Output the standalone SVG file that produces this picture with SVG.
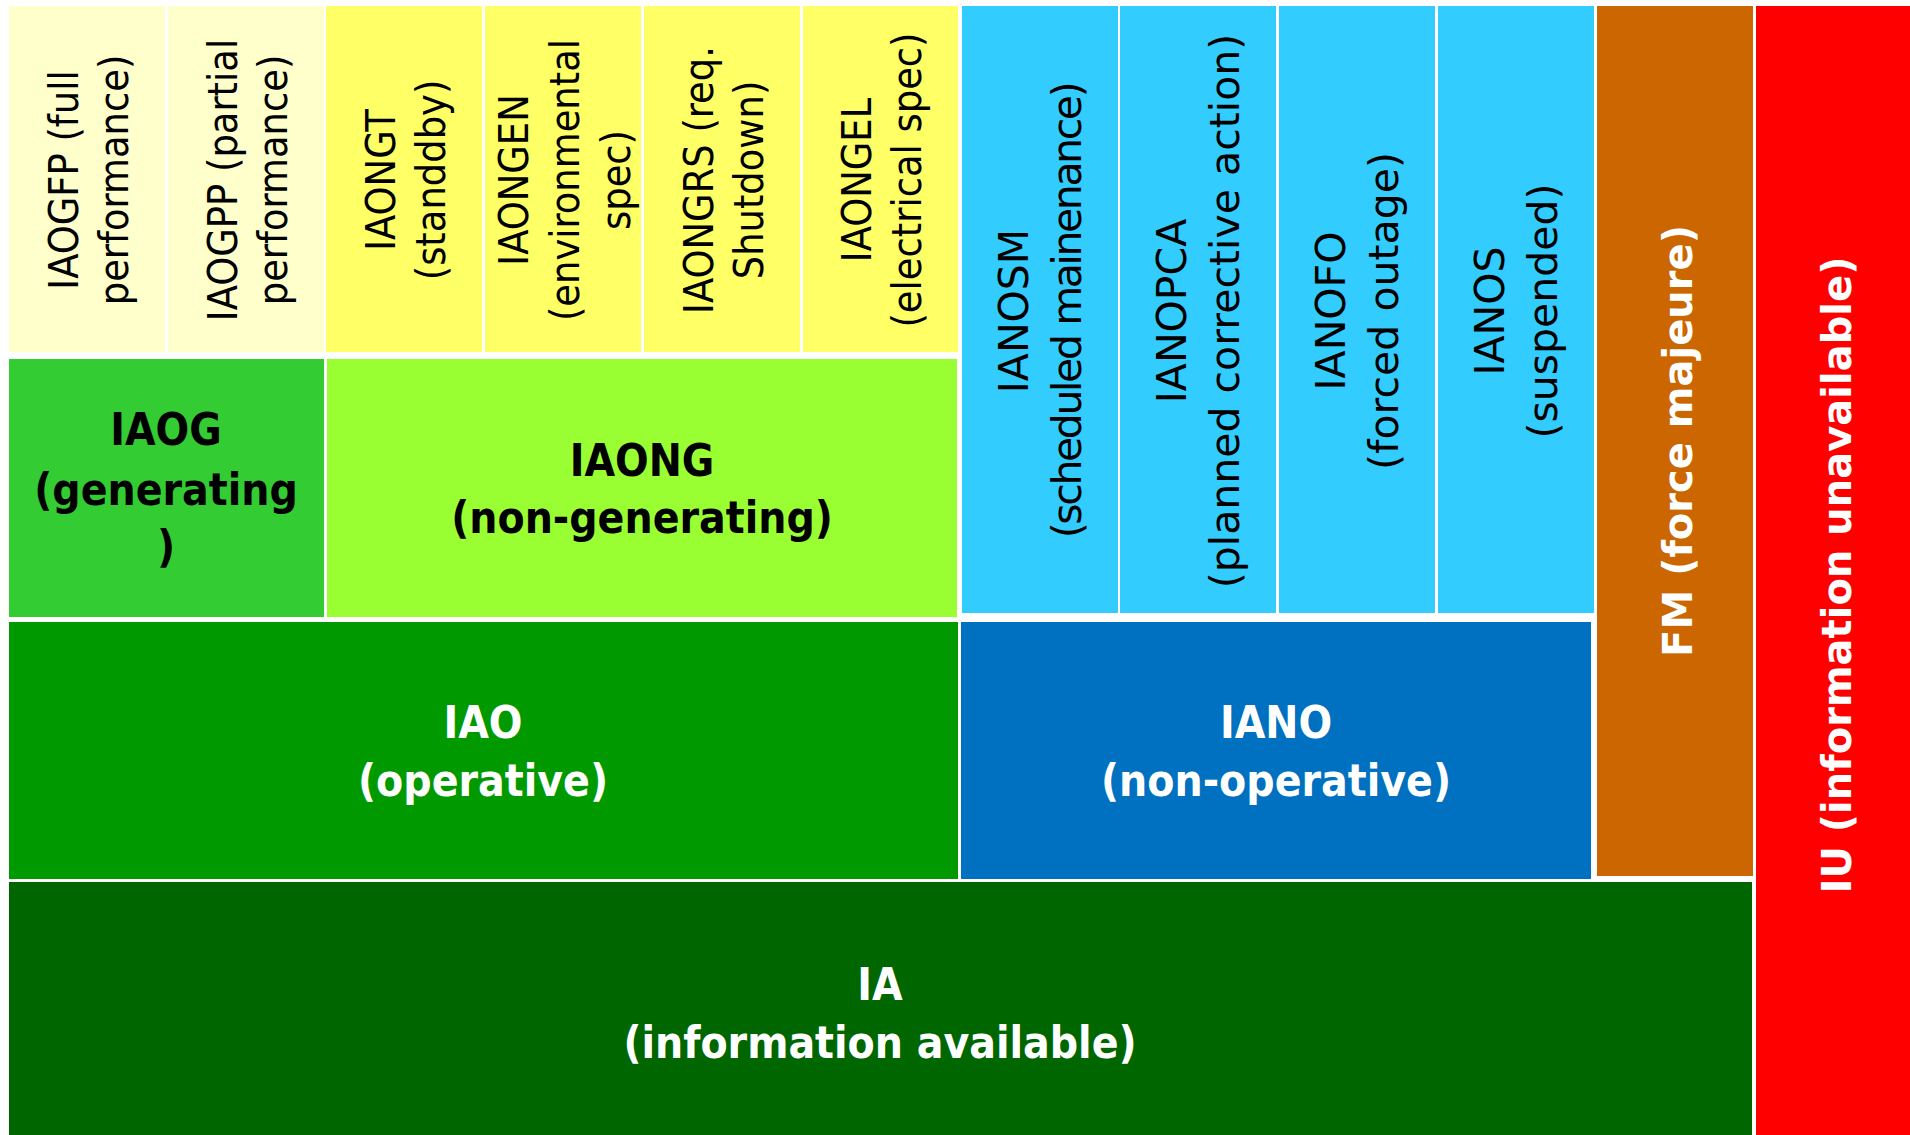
<svg xmlns="http://www.w3.org/2000/svg" width="1910" height="1135" viewBox="0 0 1910 1135">
<style>
.sub{font-family:"DejaVu Sans Condensed","DejaVu Sans",sans-serif;font-size:41px;fill:#000;text-anchor:middle}
.blu{font-family:"DejaVu Sans",sans-serif;font-size:41px;fill:#000;text-anchor:middle}
.ttl{font-family:"DejaVu Sans Condensed","DejaVu Sans",sans-serif;font-weight:bold;font-size:44px;text-anchor:middle}
.big{font-family:"DejaVu Sans",sans-serif;font-weight:bold;font-size:40px;fill:#fff;text-anchor:middle}
.k{fill:#000}.w{fill:#fff}
</style>
<rect x="0" y="0" width="1910" height="1135" fill="#fff"/>
<g id="connectors"></g>
<g id="IAOGFP"><rect x="9" y="6" width="156" height="346" fill="#FFFFCC"/>
<text class="sub" transform="translate(87,180) rotate(-90)"><tspan x="0" y="-9">IAOGFP (full</tspan><tspan x="0" y="41">performance)</tspan></text></g>
<g id="IAOGPP"><rect x="168" y="6" width="156" height="346" fill="#FFFFCC"/>
<text class="sub" transform="translate(246,180) rotate(-90)"><tspan x="0" y="-9">IAOGPP (partial</tspan><tspan x="0" y="41">performance)</tspan></text></g>
<g id="IAONGT"><rect x="326" y="6" width="156" height="346" fill="#FFFF66"/>
<text class="sub" transform="translate(404,180) rotate(-90)"><tspan x="0" y="-9">IAONGT</tspan><tspan x="0" y="41">(standdby)</tspan></text></g>
<g id="IAONGEN"><rect x="485" y="6" width="156" height="346" fill="#FFFF66"/>
<text class="sub" transform="translate(563,180) rotate(-90)"><tspan x="0" y="-35">IAONGEN</tspan><tspan x="0" y="16">(environmental</tspan><tspan x="0" y="67">spec)</tspan></text></g>
<g id="IAONGRS"><rect x="644" y="6" width="156" height="346" fill="#FFFF66"/>
<text class="sub" transform="translate(722,180) rotate(-90)"><tspan x="0" y="-9">IAONGRS (req.</tspan><tspan x="0" y="41">Shutdown)</tspan></text></g>
<g id="IAONGEL"><rect x="803" y="6" width="155" height="346" fill="#FFFF66"/>
<text class="sub" transform="translate(880,180) rotate(-90)"><tspan x="0" y="-9">IAONGEL</tspan><tspan x="0" y="41">(electrical spec)</tspan></text></g>
<g id="IANOSM"><rect x="962" y="6" width="156" height="607" fill="#33CCFF"/>
<text class="blu" transform="translate(1040,311) rotate(-90)"><tspan x="0" y="-12">IANOSM</tspan><tspan x="0" y="41" letter-spacing="-2.4">(scheduled mainenance)</tspan></text></g>
<g id="IANOPCA"><rect x="1120" y="6" width="156" height="607" fill="#33CCFF"/>
<text class="blu" transform="translate(1198,311) rotate(-90)"><tspan x="0" y="-12">IANOPCA</tspan><tspan x="0" y="41">(planned corrective action)</tspan></text></g>
<g id="IANOFO"><rect x="1279" y="6" width="156" height="607" fill="#33CCFF"/>
<text class="blu" transform="translate(1357,311) rotate(-90)"><tspan x="0" y="-12">IANOFO</tspan><tspan x="0" y="41">(forced outage)</tspan></text></g>
<g id="IANOS"><rect x="1438" y="6" width="156" height="607" fill="#33CCFF"/>
<text class="blu" transform="translate(1516,311) rotate(-90)"><tspan x="0" y="-12">IANOS</tspan><tspan x="0" y="41">(suspended)</tspan></text></g>
<g id="IAOG"><rect x="9" y="359" width="315" height="258" fill="#33CC33"/>
<text class="ttl k" x="166" y="445">IAOG<tspan x="166" y="505">(generating</tspan><tspan x="166" y="562">)</tspan></text></g>
<g id="IAONG"><rect x="327" y="359" width="630" height="258" fill="#99FF33"/>
<text class="ttl k" x="642" y="476">IAONG<tspan x="642" y="533">(non-generating)</tspan></text></g>
<g id="IAO"><rect x="9" y="622" width="949" height="257" fill="#009900"/>
<text class="ttl w" x="483" y="738">IAO<tspan x="483" y="796">(operative)</tspan></text></g>
<g id="IANO"><rect x="961" y="622" width="630" height="257" fill="#0070C0"/>
<text class="ttl w" x="1276" y="738">IANO<tspan x="1276" y="796">(non-operative)</tspan></text></g>
<g id="FM"><rect x="1597" y="6" width="156" height="870" fill="#CC6600"/>
<text class="big" transform="translate(1678,441) rotate(-90)" y="14">FM (force majeure)</text></g>
<g id="IU"><rect x="1756" y="6" width="154" height="1129" fill="#FF0000"/>
<text class="big" transform="translate(1837,575) rotate(-90)" y="14">IU (information unavailable)</text></g>
<g id="IA"><rect x="9" y="882" width="1743" height="253" fill="#006600"/>
<text class="ttl w" x="880" y="1000">IA<tspan x="880" y="1058">(information available)</tspan></text></g>
</svg>
